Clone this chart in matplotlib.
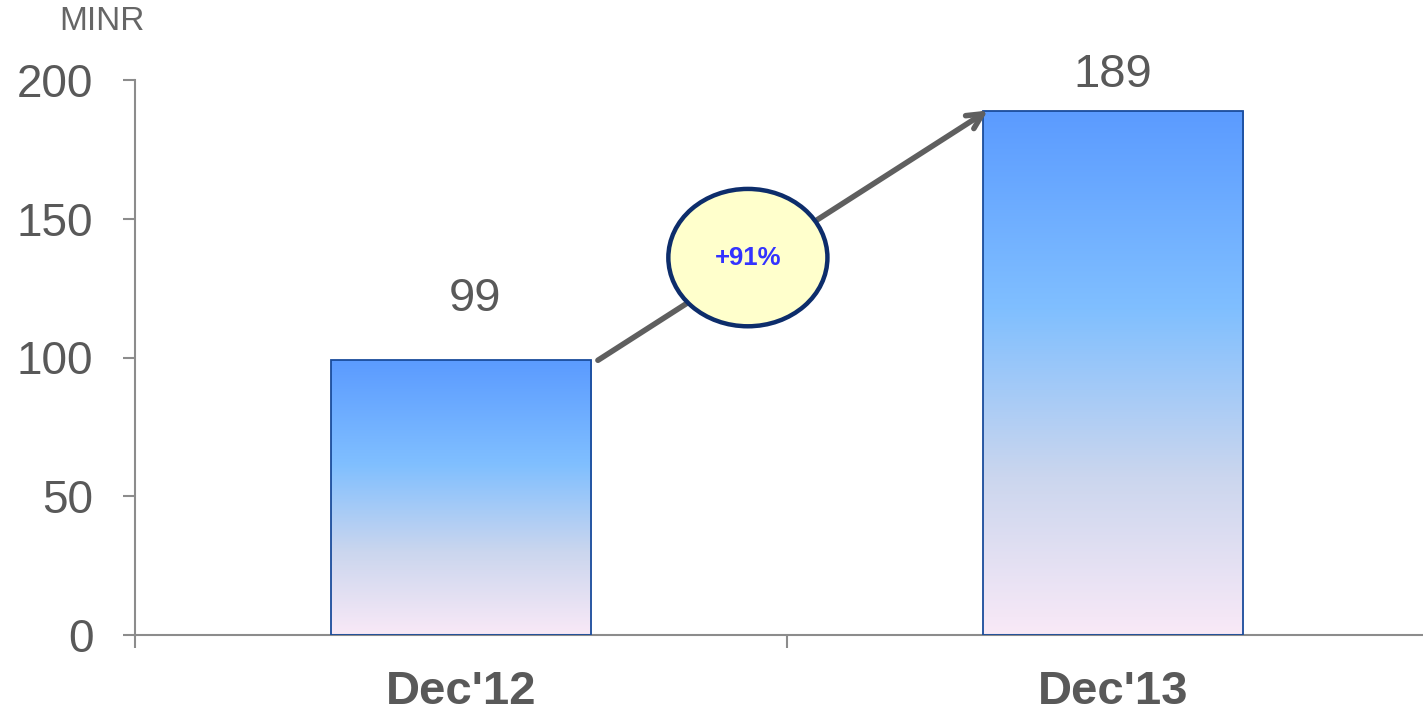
import numpy as np
import matplotlib
from matplotlib import pyplot as plt
from matplotlib.colors import LinearSegmentedColormap
from matplotlib.patches import Ellipse

periods = ["Dec'12", "Dec'13"]
values = [99, 189]
unit = 'MINR'
y_ticks = [0, 50, 100, 150, 200]

plt.rcParams['font.family'] = ['Liberation Sans', 'DejaVu Sans']

TEXT = '#595959'
AXIS = '#8c8c8c'

# vertical fill of each bar, bottom -> top
bar_cmap = LinearSegmentedColormap.from_list('bar', [
	(0.0, '#f9e9f7'),
	(0.3, '#cbd6ee'),
	(0.62, '#80bfff'),
	(1.0, '#5b9bff'),
])


def main():
	fig = plt.figure(figsize=(14.23, 7.15), dpi=100)
	ax = fig.add_axes([135 / 1423, 80 / 715, 1304 / 1423, 555 / 715])

	x = np.arange(len(values))
	bars = ax.bar(x, values, width=0.4, facecolor='none', edgecolor='#1a4c9c', linewidth=1.3, zorder=3)

	grad = np.linspace(0, 1, 256).reshape(-1, 1)
	for b in bars:
		x0, y0 = b.get_x(), b.get_y()
		img = ax.imshow(grad, cmap=bar_cmap, origin='lower', aspect='auto',
						extent=(x0, x0 + b.get_width(), y0, y0 + b.get_height()), zorder=2)
		img.set_clip_path(b)

	# value labels above the bars
	label_offsets = [(10, 28), (0, 9.5)]
	for xi, v, off in zip(x, values, label_offsets):
		ax.annotate(f'{v}', (xi, v), xytext=off, textcoords='offset points',
					ha='center', va='bottom', fontsize=34, color=TEXT)

	# growth arrow from first bar to second
	start = (x[0] + 0.21, values[0])
	end = (x[1] - 0.192, values[1])
	ax.annotate('', xy=end, xytext=start,
				arrowprops=dict(arrowstyle='->,head_length=1.1,head_width=0.55', color='#5f5f5f',
								lw=4.0, shrinkA=0, shrinkB=0), zorder=4)

	growth = (values[1] / values[0] - 1) * 100
	cx, cy = 0.44, 136
	ax.add_patch(Ellipse((cx, cy), 0.244, 49.5, facecolor='#ffffcc', edgecolor='#0d2d6b', lw=3.2, zorder=5))
	ax.text(cx, cy, f'+{growth:.0f}%', ha='center', va='center', fontsize=18.5,
			fontweight='bold', color='#3333ff', zorder=6)

	ax.set_xlim(-0.5, 1.5)
	ax.set_ylim(0, 200)

	for side in ('top', 'right'):
		ax.spines[side].set_visible(False)
	for side in ('left', 'bottom'):
		ax.spines[side].set_color(AXIS)
		ax.spines[side].set_linewidth(1.5)

	ax.set_yticks(y_ticks)
	ax.tick_params(axis='y', length=9, width=1.5, color=AXIS, labelsize=33, labelcolor=TEXT, pad=21)

	# category boundaries as major ticks, names on minor ticks
	ax.set_xticks([-0.5, 0.5, 1.5])
	ax.set_xticklabels([])
	ax.set_xticks(x, minor=True)
	ax.set_xticklabels(periods, minor=True, fontsize=34, fontweight='bold', color=TEXT)
	ax.tick_params(axis='x', which='major', length=9, width=1.5, color=AXIS)
	ax.tick_params(axis='x', which='minor', length=0, pad=25)

	fig.text(102 / 1423, 1 - 21 / 715, unit, ha='center', va='center', fontsize=24, color='#666666')

	fig.savefig('out.png', dpi=100)


if __name__ == '__main__':
	main()
